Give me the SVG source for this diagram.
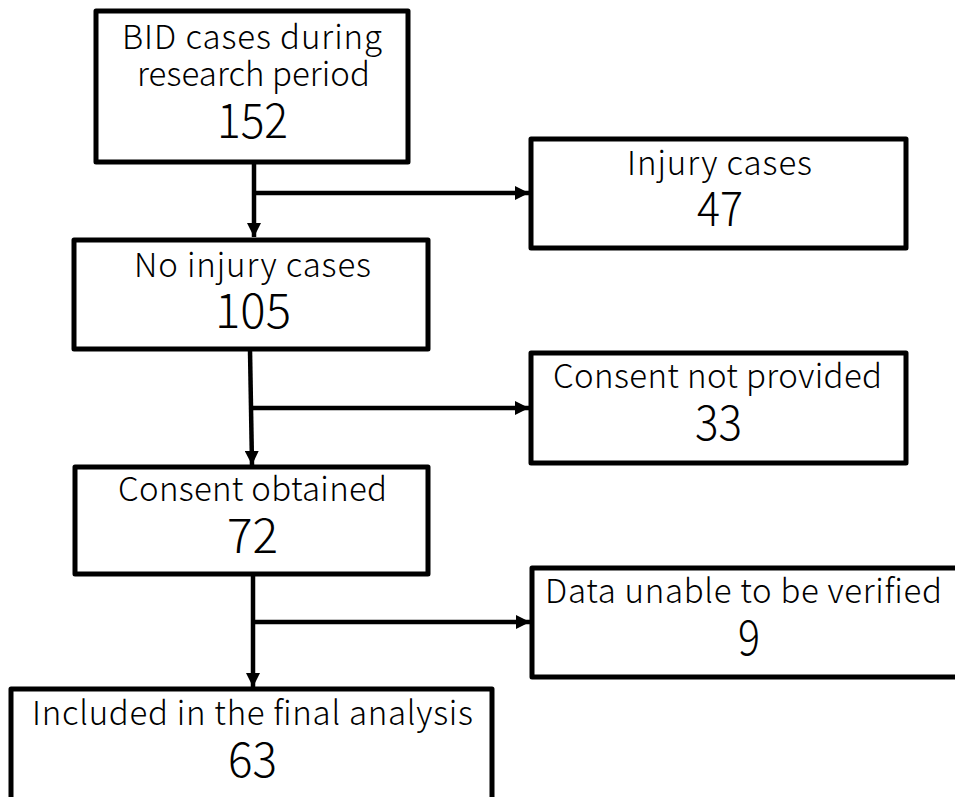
<svg xmlns="http://www.w3.org/2000/svg" width="955" height="797" viewBox="0 0 955 797">
<defs>
<style>
.box{fill:#fff;stroke:#000;stroke-width:5;stroke-linejoin:round}
.t{font-family:"Noto Sans CJK JP","Noto Sans",sans-serif;font-weight:300;font-size:33px;text-anchor:middle;fill:#000}
.n{font-family:"Noto Sans CJK JP","Noto Sans",sans-serif;font-weight:300;font-size:48px;text-anchor:middle;fill:#000}
.c{fill:none;stroke:#000;stroke-width:4.5}
</style>
<marker id="ah2" viewBox="0 0 10 10" refX="10" refY="5" markerWidth="14" markerHeight="14" orient="auto" markerUnits="userSpaceOnUse">
<path d="M0,0 L10,5 L0,10 Z" fill="#000"/>
</marker>
</defs>
<rect width="955" height="797" fill="#fff"/>
<g id="connectors">
<line class="c" x1="254" y1="163" x2="254" y2="237" marker-end="url(#ah2)"/>
<line class="c" x1="254" y1="193" x2="529" y2="193" marker-end="url(#ah2)"/>
<line class="c" x1="250" y1="350" x2="252" y2="465" marker-end="url(#ah2)"/>
<line class="c" x1="251" y1="408" x2="529" y2="408" marker-end="url(#ah2)"/>
<line class="c" x1="253" y1="575" x2="253" y2="687" marker-end="url(#ah2)"/>
<line class="c" x1="253" y1="622" x2="530" y2="622" marker-end="url(#ah2)"/>
</g>
<g id="n1">
<rect class="box" x="96" y="11" width="312" height="151"/>
<text class="t" x="252" y="49" textLength="260">BID cases during</text>
<text class="t" x="253.5" y="86" textLength="233">research period</text>
<text class="n" x="252.5" y="138" textLength="71" lengthAdjust="spacingAndGlyphs">152</text>
</g>
<g id="n2">
<rect class="box" x="531" y="139" width="375" height="109"/>
<text class="t" x="719.5" y="175" textLength="185">Injury cases</text>
<text class="n" x="720" y="226" textLength="46" lengthAdjust="spacingAndGlyphs">47</text>
</g>
<g id="n3">
<rect class="box" x="74" y="240" width="354" height="109"/>
<text class="t" x="252.5" y="277" textLength="237">No injury cases</text>
<text class="n" x="253" y="328" textLength="76" lengthAdjust="spacingAndGlyphs">105</text>
</g>
<g id="n4">
<rect class="box" x="531" y="353" width="375" height="110"/>
<text class="t" x="717.5" y="388" textLength="329">Consent not provided</text>
<text class="n" x="718.5" y="440" textLength="47" lengthAdjust="spacingAndGlyphs">33</text>
</g>
<g id="n5">
<rect class="box" x="75" y="467" width="353" height="107"/>
<text class="t" x="252.5" y="501" textLength="269">Consent obtained</text>
<text class="n" x="252.5" y="553" textLength="51" lengthAdjust="spacingAndGlyphs">72</text>
</g>
<g id="n6">
<rect class="box" x="532" y="568" width="430" height="109"/>
<text class="t" x="743.5" y="603" textLength="397">Data unable to be verified</text>
<text class="n" x="749" y="655" textLength="22" lengthAdjust="spacingAndGlyphs">9</text>
</g>
<g id="n7">
<rect class="box" x="11" y="689" width="481" height="120"/>
<text class="t" x="252.5" y="725" textLength="441">Included in the final analysis</text>
<text class="n" x="252.5" y="777" textLength="49" lengthAdjust="spacingAndGlyphs">63</text>
</g>
</svg>
